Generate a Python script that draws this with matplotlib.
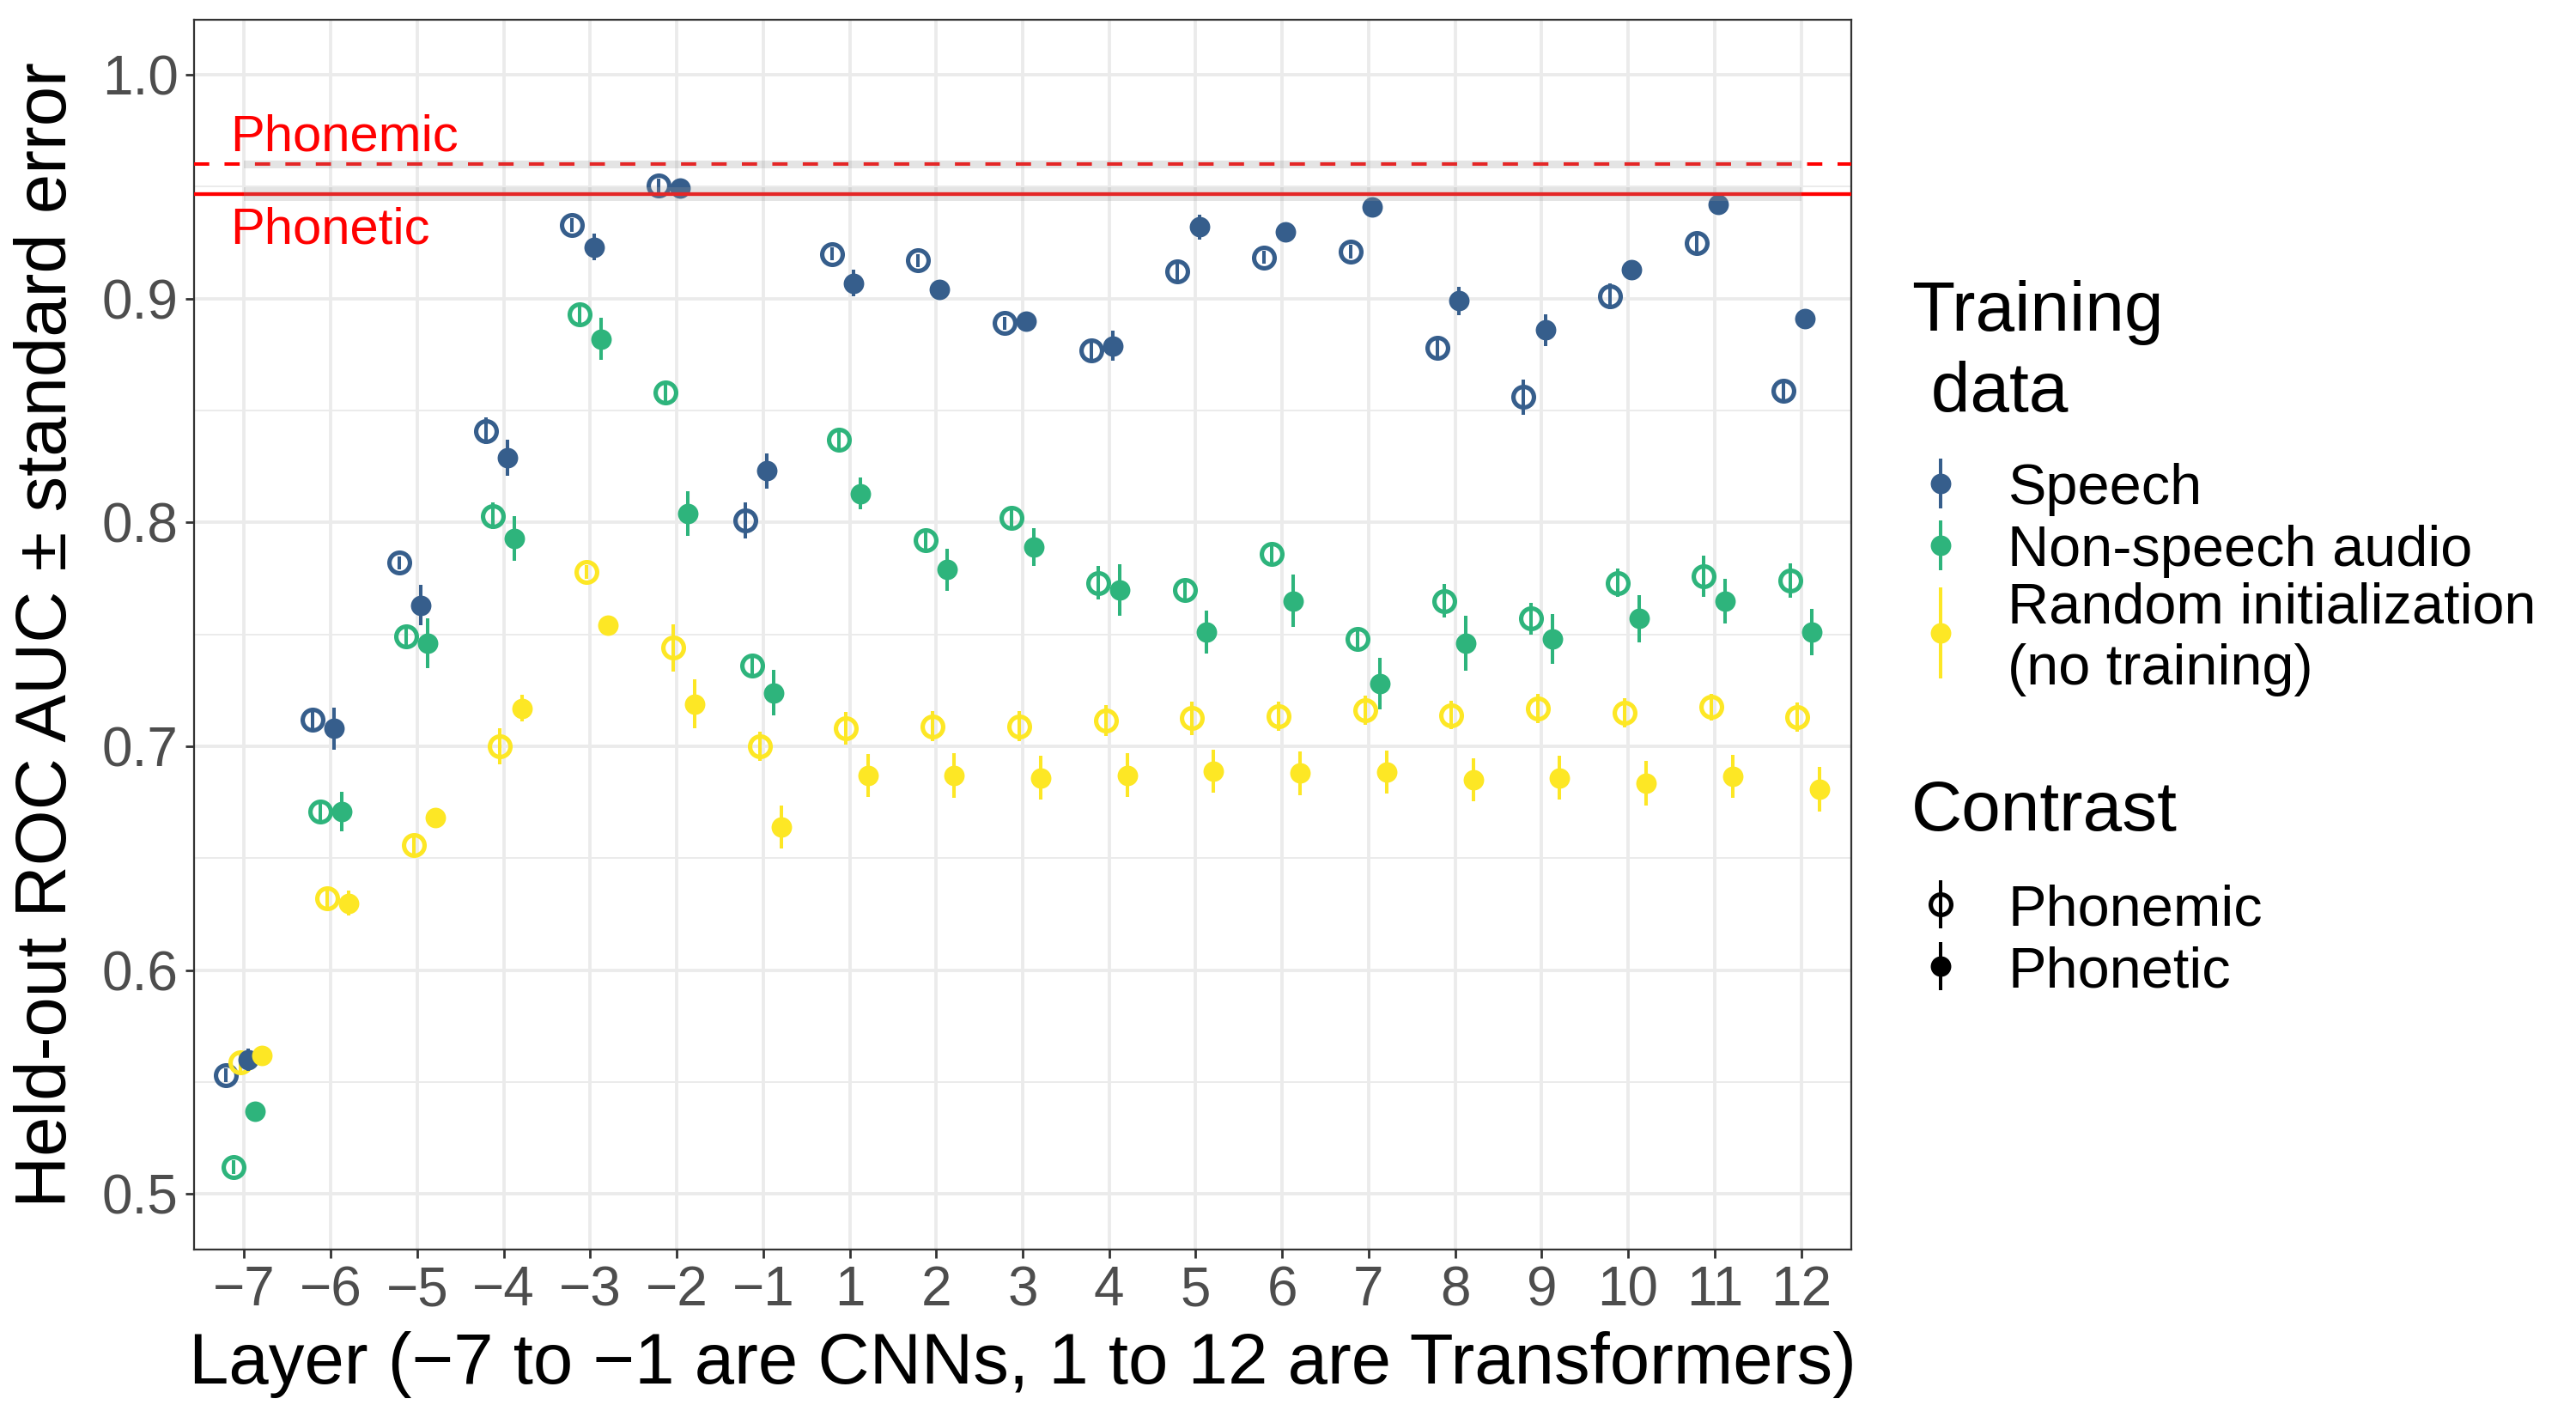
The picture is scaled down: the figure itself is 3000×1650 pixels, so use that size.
import numpy as np
import matplotlib.pyplot as plt

plt.rcParams['font.family'] = ['Liberation Sans', 'DejaVu Sans']

# layers: CNN layers -7..-1, transformer layers 1..12
layers = [-7, -6, -5, -4, -3, -2, -1, 1, 2, 3, 4, 5, 6, 7, 8, 9, 10, 11, 12]
layer_labels = [str(l).replace('-', '\u2212') for l in layers]

training_labels = ['Speech', 'Non-speech audio', 'Random initialization\n(no training)']
training_colors = ['#365E8C', '#2EB47C', '#FDE725']

# mean held-out ROC AUC
speech_phonemic = [0.553, 0.712, 0.782, 0.841, 0.933, 0.9505, 0.801, 0.920, 0.917, 0.889,
                   0.877, 0.912, 0.9185, 0.921, 0.878, 0.856, 0.901, 0.925, 0.859]
speech_phonetic = [0.560, 0.708, 0.763, 0.829, 0.923, 0.9495, 0.823, 0.907, 0.904, 0.890,
                   0.879, 0.932, 0.930, 0.941, 0.899, 0.886, 0.913, 0.942, 0.891]
nonspeech_phonemic = [0.512, 0.671, 0.749, 0.803, 0.893, 0.858, 0.736, 0.837, 0.792, 0.802,
                      0.773, 0.770, 0.786, 0.748, 0.765, 0.757, 0.773, 0.776, 0.774]
nonspeech_phonetic = [0.537, 0.671, 0.746, 0.793, 0.882, 0.804, 0.724, 0.813, 0.779, 0.789,
                      0.770, 0.751, 0.765, 0.728, 0.746, 0.748, 0.757, 0.765, 0.751]
random_phonemic = [0.559, 0.632, 0.656, 0.700, 0.778, 0.744, 0.700, 0.708, 0.709, 0.709,
                   0.7115, 0.7125, 0.7135, 0.716, 0.714, 0.717, 0.715, 0.7175, 0.713]
random_phonetic = [0.562, 0.630, 0.668, 0.717, 0.754, 0.719, 0.664, 0.687, 0.687, 0.686,
                   0.687, 0.689, 0.688, 0.6885, 0.685, 0.686, 0.6835, 0.6865, 0.681]

# standard errors
speech_phonemic_se = [0.003, 0.004, 0.003, 0.006, 0.003, 0.003, 0.008, 0.003, 0.003, 0.003,
                      0.004, 0.004, 0.003, 0.003, 0.004, 0.0078, 0.0058, 0.004, 0.004]
speech_phonetic_se = [0.005, 0.0094, 0.009, 0.008, 0.006, 0.002, 0.008, 0.006, 0.003, 0.003,
                      0.0067, 0.0057, 0.003, 0.002, 0.0062, 0.0071, 0.003, 0.003, 0.003]
nonspeech_phonemic_se = [0.003, 0.004, 0.004, 0.006, 0.005, 0.004, 0.004, 0.004, 0.004, 0.004,
                         0.0075, 0.004, 0.004, 0.004, 0.0075, 0.007, 0.0063, 0.0092, 0.0077]
nonspeech_phonetic_se = [0.003, 0.0088, 0.011, 0.010, 0.0095, 0.010, 0.010, 0.007, 0.0094, 0.0083,
                         0.0115, 0.0096, 0.0116, 0.0115, 0.0124, 0.011, 0.0105, 0.010, 0.0104]
random_phonemic_se = [0.004, 0.004, 0.004, 0.008, 0.003, 0.0106, 0.0066, 0.0073, 0.0068, 0.0068,
                      0.007, 0.0074, 0.0066, 0.0065, 0.0064, 0.0065, 0.0064, 0.006, 0.0064]
random_phonetic_se = [0.003, 0.0057, 0.003, 0.006, 0.003, 0.011, 0.0097, 0.0096, 0.010, 0.0099,
                      0.0098, 0.0096, 0.0098, 0.0095, 0.0097, 0.0099, 0.0099, 0.0096, 0.010]

# human reference levels (mean, half-width of band)
ref_phonemic = 0.960
ref_phonemic_band = 0.0016
ref_phonetic = 0.9468
ref_phonetic_band = 0.003

W, H = 3000, 1650


def main():
    fig = plt.figure(figsize=(15, 8.25), dpi=200)
    left, right, top, bottom = 226, 2156, 23, 1455
    ax = fig.add_axes([left / W, 1 - bottom / H, (right - left) / W, (bottom - top) / H])

    x = np.arange(len(layers))
    groups = [
        (speech_phonemic, speech_phonemic_se, 0, True),
        (nonspeech_phonemic, nonspeech_phonemic_se, 1, True),
        (random_phonemic, random_phonemic_se, 2, True),
        (speech_phonetic, speech_phonetic_se, 0, False),
        (nonspeech_phonetic, nonspeech_phonetic_se, 1, False),
        (random_phonetic, random_phonetic_se, 2, False),
    ]
    step = 0.5 / 6
    for k, (vals, se, ci, open_marker) in enumerate(groups):
        xs = x + (k - 2.5) * step
        vals = np.array(vals)
        se = np.array(se)
        col = training_colors[ci]
        ax.vlines(xs, vals - se, vals + se, color=col, lw=1.45, zorder=3 + k * 0.1)
        if open_marker:
            ax.plot(xs, vals, 'o', ms=8.6, mfc='none', mec=col, mew=1.85,
                    ls='none', zorder=3 + k * 0.1)
        else:
            ax.plot(xs, vals, 'o', ms=8.6, mfc=col, mec=col, mew=0,
                    ls='none', zorder=3 + k * 0.1)

    # reference lines with grey band
    ax.axhline(ref_phonemic, color='red', lw=1.45, ls=(0, (4.4, 4.4)), zorder=4)
    ax.axhline(ref_phonetic, color='red', lw=1.55, zorder=4)
    ax.fill_between([x[0], x[-1]], ref_phonemic - ref_phonemic_band,
                    ref_phonemic + ref_phonemic_band, color='#999999', alpha=0.26,
                    lw=0, zorder=5)
    ax.fill_between([x[0], x[-1]], ref_phonetic - ref_phonetic_band,
                    ref_phonetic + ref_phonetic_band, color='#999999', alpha=0.26,
                    lw=0, zorder=5)
    ax.text(-0.16, 0.966, 'Phonemic', color='red', fontsize=21.5, ha='left', va='baseline')
    ax.text(-0.16, 0.9248, 'Phonetic', color='red', fontsize=21.5, ha='left', va='baseline')

    # axes styling
    ax.set_xlim(-0.58, len(layers) - 1 + 0.58)
    ax.set_ylim(0.4752, 1.0246)
    ax.set_xticks(x)
    ax.set_xticklabels(layer_labels)
    ax.set_yticks([0.5, 0.6, 0.7, 0.8, 0.9, 1.0])
    ax.set_yticklabels(['0.5', '0.6', '0.7', '0.8', '0.9', '1.0'])
    ax.set_yticks([0.55, 0.65, 0.75, 0.85, 0.95], minor=True)
    ax.grid(True, which='major', color='#EBEBEB', lw=1.4, zorder=0)
    ax.grid(True, which='minor', axis='y', color='#EBEBEB', lw=0.7, zorder=0)
    ax.set_axisbelow(True)
    ax.tick_params(axis='both', which='major', labelsize=23, colors='#333333',
                   labelcolor='#4D4D4D', length=3.6, width=1.0, pad=3)
    ax.tick_params(axis='y', which='minor', length=0)
    for sp in ax.spines.values():
        sp.set_color('#333333')
        sp.set_linewidth(0.8)

    ax.set_xlabel('Layer (\u22127 to \u22121 are CNNs, 1 to 12 are Transformers)',
                  fontsize=30, labelpad=6)
    ax.set_ylabel('Held-out ROC AUC \u00b1 standard error', fontsize=30, labelpad=9)

    # legend drawn in pixel coordinates
    lax = fig.add_axes([0, 0, 1, 1])
    lax.set_xlim(0, W)
    lax.set_ylim(H, 0)
    lax.axis('off')

    key_x = 2260
    lab_x = 2338
    title_x = 2226
    lax.text(title_x, 356, 'Training', fontsize=29.5, ha='left', va='center_baseline')
    lax.text(title_x, 449, ' data', fontsize=29.5, ha='left', va='center_baseline')

    key_rows = [(563, 534, 592), (635, 606, 664), (737, 684, 790)]
    for ci, (ky, y0, y1) in enumerate(key_rows):
        col = training_colors[ci]
        lax.vlines(key_x, y0, y1, color=col, lw=1.45)
        lax.plot(key_x, ky, 'o', ms=8.6, mfc=col, mec=col, mew=0)
    lax.text(lab_x, 563, training_labels[0], fontsize=24, ha='left', va='center_baseline')
    lax.text(lab_x, 635, training_labels[1], fontsize=24, ha='left', va='center_baseline')
    lab_lines = training_labels[2].split('\n')
    lax.text(lab_x, 702, lab_lines[0], fontsize=24, ha='left', va='center_baseline')
    lax.text(lab_x, 773, lab_lines[1], fontsize=24, ha='left', va='center_baseline')

    lax.text(title_x, 937, 'Contrast', fontsize=29.5, ha='left', va='center_baseline')
    lax.vlines(key_x, 1025, 1081, color='black', lw=1.45)
    lax.plot(key_x, 1053, 'o', ms=8.6, mfc='none', mec='black', mew=1.85)
    lax.text(lab_x, 1053, 'Phonemic', fontsize=24, ha='left', va='center_baseline')
    lax.vlines(key_x, 1097, 1153, color='black', lw=1.45)
    lax.plot(key_x, 1125, 'o', ms=8.6, mfc='black', mec='black', mew=0)
    lax.text(lab_x, 1125, 'Phonetic', fontsize=24, ha='left', va='center_baseline')

    fig.savefig('out.png', dpi=200, facecolor='white')


if __name__ == '__main__':
    main()
